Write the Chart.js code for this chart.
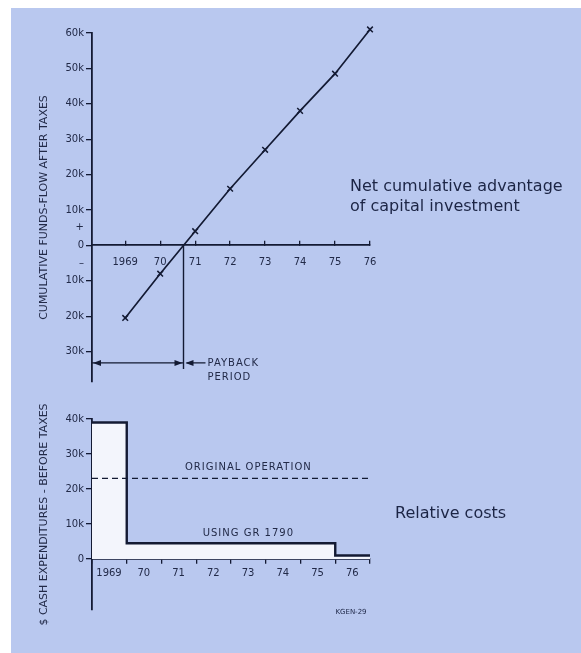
<!DOCTYPE html>
<html>
<head>
<meta charset="utf-8">
<script src="https://cdn.jsdelivr.net/npm/chart.js@4"></script>
<style>
  html, body { margin: 0; padding: 0; background: #fff; }
  #sheet { position: absolute; left: 11px; top: 8px; width: 570px; height: 645px; background: #b9c8ef; }
  canvas { position: absolute; left: 0; }
  #flow-chart { top: 0; }
  #cost-chart { top: 395px; }
</style>
</head>
<body>
<div id="sheet"></div>
<canvas id="flow-chart" width="581" height="395"></canvas>
<canvas id="cost-chart" width="581" height="258"></canvas>
<script>
'use strict';

var INK       = '#131a33';
var LABEL_INK = '#222a48';

// top: cumulative funds-flow after taxes ($k)
var FLOW_YEARS  = [1969, 1970, 1971, 1972, 1973, 1974, 1975, 1976];
var FLOW_VALUES = [-20.5, -8, 4, 16, 27, 38, 48.5, 61];
var FLOW_TICKS  = [-30, -20, -10, -5, 0, 5, 10, 20, 30, 40, 50, 60];

// bottom: cash expenditures before taxes ($k)
var COST_YEARS    = [1969, 1970, 1971, 1972, 1973, 1974, 1975, 1976];
var COST_GR1790   = [39, 4.5, 4.5, 4.5, 4.5, 4.5, 4.5, 1];
var COST_ORIGINAL = [23, 23, 23, 23, 23, 23, 23, 23];
var COST_TICKS    = [0, 10, 20, 30, 40];

Chart.defaults.font.family = '"DejaVu Sans", sans-serif';
Chart.defaults.color = LABEL_INK;

function yearLabel(v) {
  return v === 1969 ? '1969' : String(v).slice(2);
}

function kLabel(v) {
  if (v === 0) return '0';
  if (v === 5) return '+';
  if (v === -5) return '\u2013';
  return Math.abs(v) + 'k';
}

// each year holds its value until the next year starts
function stepPoints(values) {
  var pts = COST_YEARS.map(function(y, i) { return { x: y, y: values[i] }; });
  pts.push({ x: COST_YEARS[COST_YEARS.length - 1] + 1, y: values[values.length - 1] });
  return pts;
}

function arrowHead(ctx, x, y, dir) {
  ctx.beginPath();
  ctx.moveTo(x, y);
  ctx.lineTo(x - dir * 8, y - 3);
  ctx.lineTo(x - dir * 8, y + 3);
  ctx.closePath();
  ctx.fill();
}

function lettering(ctx, text, x, y, align) {
  ctx.font = '10px "DejaVu Sans"';
  ctx.letterSpacing = '1px';
  ctx.textAlign = align || 'center';
  ctx.textBaseline = 'middle';
  ctx.fillText(text, x, y);
  ctx.letterSpacing = '0px';
}

var paybackPlugin = {
  id: 'payback',
  afterDatasetsDraw: function(chart) {
    var ctx = chart.ctx, xs = chart.scales.x, ys = chart.scales.y;
    var area = chart.chartArea;

    // zero crossing of the cumulative line
    var xp = null;
    for (var i = 0; i < FLOW_VALUES.length - 1; i++) {
      if (FLOW_VALUES[i] < 0 && FLOW_VALUES[i + 1] >= 0) {
        xp = FLOW_YEARS[i] + (0 - FLOW_VALUES[i]) / (FLOW_VALUES[i + 1] - FLOW_VALUES[i]) * (FLOW_YEARS[i + 1] - FLOW_YEARS[i]);
      }
    }
    var px = xs.getPixelForValue(xp);
    var y0 = ys.getPixelForValue(0);
    var ya = ys.getPixelForValue(-33.2);

    ctx.save();
    ctx.strokeStyle = INK;
    ctx.fillStyle = INK;
    ctx.lineWidth = 1.4;
    ctx.beginPath();
    ctx.moveTo(px, y0);
    ctx.lineTo(px, ya + 6);
    ctx.moveTo(area.left, ya);
    ctx.lineTo(px, ya);
    ctx.moveTo(px + 22, ya);
    ctx.lineTo(px + 3, ya);
    ctx.stroke();
    arrowHead(ctx, area.left + 1, ya, -1);
    arrowHead(ctx, px - 1, ya, 1);
    arrowHead(ctx, px + 2, ya, -1);

    ctx.fillStyle = LABEL_INK;
    lettering(ctx, 'PAYBACK', px + 24, ya + 1, 'left');
    lettering(ctx, 'PERIOD', px + 24, ya + 15, 'left');

    ctx.fillStyle = '#1c2545';
    ctx.font = '16px "DejaVu Sans"';
    ctx.textAlign = 'left';
    ctx.textBaseline = 'middle';
    ctx.fillText('Net cumulative advantage', 350, 187);
    ctx.fillText('of capital investment', 350, 207);
    ctx.restore();
  }
};

var costLabelsPlugin = {
  id: 'costLabels',
  afterDatasetsDraw: function(chart) {
    var ctx = chart.ctx, xs = chart.scales.x, ys = chart.scales.y;
    ctx.save();
    ctx.fillStyle = LABEL_INK;
    lettering(ctx, 'ORIGINAL OPERATION', xs.getPixelForValue(1973.5), ys.getPixelForValue(26.2));
    lettering(ctx, 'USING GR 1790', xs.getPixelForValue(1973.5), ys.getPixelForValue(7.4));

    ctx.fillStyle = '#1c2545';
    ctx.font = '16px "DejaVu Sans"';
    ctx.textAlign = 'left';
    ctx.textBaseline = 'middle';
    ctx.fillText('Relative costs', 395, 119);

    ctx.font = '7px "DejaVu Sans"';
    ctx.textAlign = 'center';
    ctx.fillText('KGEN-29', 351, 217);
    ctx.restore();
  }
};

new Chart(document.getElementById('flow-chart'), {
  type: 'line',
  data: {
    datasets: [{
      data: FLOW_YEARS.map(function(y, i) { return { x: y, y: FLOW_VALUES[i] }; }),
      borderColor:      INK,
      borderWidth:      1.7,
      pointStyle:       'crossRot',
      pointRadius:      4,
      pointBorderWidth: 1.5,
      pointBorderColor: INK,
      tension:          0,
      clip:             false,
    }],
  },
  options: {
    responsive: false,
    animation:  false,
    layout: { padding: { left: 34, top: 33, right: 211, bottom: 13 } },
    plugins: { legend: { display: false }, tooltip: { enabled: false } },
    scales: {
      x: {
        type: 'linear', min: 1968.05, max: 1976,
        position: { y: 0 },
        afterBuildTicks: function(a) { a.ticks = FLOW_YEARS.map(function(v) { return { value: v }; }); },
        grid:   { drawOnChartArea: false, color: INK, tickLength: -5, lineWidth: 1.3 },
        border: { color: INK, width: 1.8 },
        ticks:  { font: { size: 10 }, padding: 16, maxRotation: 0, autoSkip: false, callback: yearLabel },
      },
      y: {
        type: 'linear', min: -38.6, max: 60,
        afterBuildTicks: function(a) { a.ticks = FLOW_TICKS.map(function(v) { return { value: v }; }); },
        afterFit: function(a) { a.width = 58; },
        grid: {
          drawOnChartArea: false, tickLength: 6, lineWidth: 1.3,
          color: function(c) { return c.tick && Math.abs(c.tick.value) === 5 ? 'rgba(0,0,0,0)' : INK; },
        },
        border: { color: INK, width: 1.8 },
        ticks:  { font: { size: 10 }, padding: 2, autoSkip: false, callback: kLabel },
        title:  { display: true, text: 'CUMULATIVE FUNDS-FLOW AFTER TAXES', font: { size: 11 }, padding: { top: 4, bottom: 0 } },
      },
    },
  },
  plugins: [paybackPlugin],
});

new Chart(document.getElementById('cost-chart'), {
  type: 'line',
  data: {
    datasets: [{
      data:            stepPoints(COST_GR1790),
      stepped:         true,
      borderColor:     INK,
      borderWidth:     2.4,
      fill:            'origin',
      backgroundColor: '#f3f5fc',
      pointRadius:     0,
    }, {
      data:        stepPoints(COST_ORIGINAL),
      stepped:     true,
      borderColor: INK,
      borderWidth: 1.3,
      borderDash:  [6, 4],
      fill:        false,
      pointRadius: 0,
    }],
  },
  options: {
    responsive: false,
    animation:  false,
    layout: { padding: { left: 34, top: 24, right: 211, bottom: 43 } },
    plugins: {
      legend:  { display: false },
      tooltip: { enabled: false },
      filler:  { drawTime: 'beforeDatasetsDraw' },
    },
    scales: {
      x: {
        type: 'linear', min: 1969, max: 1977,
        position: { y: 0 },
        afterBuildTicks: function(a) {
          a.ticks = COST_YEARS.concat([1977]).map(function(v) { return { value: v }; });
        },
        grid:   { drawOnChartArea: false, color: INK, tickLength: 4, lineWidth: 1.3 },
        border: { color: INK, width: 1.8 },
        ticks:  {
          font: { size: 10 }, padding: 4, maxRotation: 0, autoSkip: false, labelOffset: 17,
          callback: function(v) { return v === 1977 ? '' : yearLabel(v); },
        },
      },
      y: {
        type: 'linear', min: -14.6, max: 40,
        afterBuildTicks: function(a) { a.ticks = COST_TICKS.map(function(v) { return { value: v }; }); },
        afterFit: function(a) { a.width = 58; },
        grid:   { drawOnChartArea: false, color: INK, tickLength: 6, lineWidth: 1.3 },
        border: { color: INK, width: 1.8 },
        ticks:  { font: { size: 10 }, padding: 2, autoSkip: false, callback: kLabel },
        title:  { display: true, text: '$ CASH EXPENDITURES - BEFORE TAXES', font: { size: 11 }, padding: { top: 4, bottom: 0 } },
      },
    },
  },
  plugins: [costLabelsPlugin],
});
</script>
</body>
</html>
